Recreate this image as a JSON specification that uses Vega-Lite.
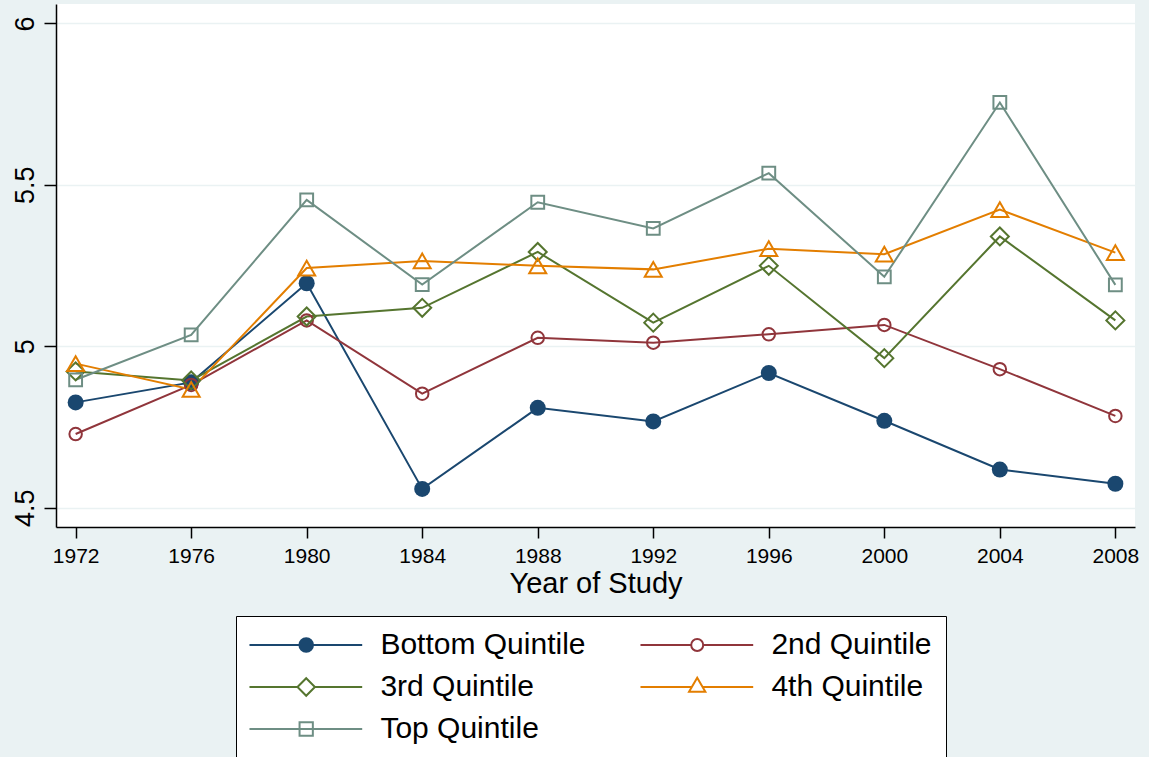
{
  "$schema": "https://vega.github.io/schema/vega-lite/v6.json",
  "width": 1079,
  "height": 523,
  "autosize": {"type": "none"},
  "padding": {"left": 56, "top": 4, "right": 14, "bottom": 230},
  "background": "#eaf2f3",
  "config": {
    "view": {"stroke": null, "fill": "white"},
    "font": "Liberation Sans",
    "axis": {
      "domainColor": "black",
      "domainWidth": 1.5,
      "tickColor": "black",
      "tickWidth": 1.5,
      "labelColor": "black",
      "titleColor": "black",
      "labelFont": "Liberation Sans",
      "titleFont": "Liberation Sans",
      "titleFontWeight": "normal"
    }
  },
  "data": {
    "values": [
      {"year": 1972, "series": "Bottom Quintile", "value": 4.826},
      {"year": 1976, "series": "Bottom Quintile", "value": 4.888},
      {"year": 1980, "series": "Bottom Quintile", "value": 5.195},
      {"year": 1984, "series": "Bottom Quintile", "value": 4.558},
      {"year": 1988, "series": "Bottom Quintile", "value": 4.809},
      {"year": 1992, "series": "Bottom Quintile", "value": 4.767},
      {"year": 1996, "series": "Bottom Quintile", "value": 4.917},
      {"year": 2000, "series": "Bottom Quintile", "value": 4.769},
      {"year": 2004, "series": "Bottom Quintile", "value": 4.618},
      {"year": 2008, "series": "Bottom Quintile", "value": 4.574},
      {"year": 1972, "series": "2nd Quintile", "value": 4.728},
      {"year": 1976, "series": "2nd Quintile", "value": 4.880},
      {"year": 1980, "series": "2nd Quintile", "value": 5.080},
      {"year": 1984, "series": "2nd Quintile", "value": 4.853},
      {"year": 1988, "series": "2nd Quintile", "value": 5.026},
      {"year": 1992, "series": "2nd Quintile", "value": 5.011},
      {"year": 1996, "series": "2nd Quintile", "value": 5.037},
      {"year": 2000, "series": "2nd Quintile", "value": 5.066},
      {"year": 2004, "series": "2nd Quintile", "value": 4.929},
      {"year": 2008, "series": "2nd Quintile", "value": 4.784},
      {"year": 1972, "series": "3rd Quintile", "value": 4.922},
      {"year": 1976, "series": "3rd Quintile", "value": 4.894},
      {"year": 1980, "series": "3rd Quintile", "value": 5.092},
      {"year": 1984, "series": "3rd Quintile", "value": 5.119},
      {"year": 1988, "series": "3rd Quintile", "value": 5.292},
      {"year": 1992, "series": "3rd Quintile", "value": 5.073},
      {"year": 1996, "series": "3rd Quintile", "value": 5.249},
      {"year": 2000, "series": "3rd Quintile", "value": 4.963},
      {"year": 2004, "series": "3rd Quintile", "value": 5.340},
      {"year": 2008, "series": "3rd Quintile", "value": 5.080},
      {"year": 1972, "series": "4th Quintile", "value": 4.946},
      {"year": 1976, "series": "4th Quintile", "value": 4.866},
      {"year": 1980, "series": "4th Quintile", "value": 5.242},
      {"year": 1984, "series": "4th Quintile", "value": 5.264},
      {"year": 1988, "series": "4th Quintile", "value": 5.249},
      {"year": 1992, "series": "4th Quintile", "value": 5.238},
      {"year": 1996, "series": "4th Quintile", "value": 5.302},
      {"year": 2000, "series": "4th Quintile", "value": 5.285},
      {"year": 2004, "series": "4th Quintile", "value": 5.423},
      {"year": 2008, "series": "4th Quintile", "value": 5.290},
      {"year": 1972, "series": "Top Quintile", "value": 4.896},
      {"year": 1976, "series": "Top Quintile", "value": 5.035},
      {"year": 1980, "series": "Top Quintile", "value": 5.453},
      {"year": 1984, "series": "Top Quintile", "value": 5.191},
      {"year": 1988, "series": "Top Quintile", "value": 5.446},
      {"year": 1992, "series": "Top Quintile", "value": 5.365},
      {"year": 1996, "series": "Top Quintile", "value": 5.536},
      {"year": 2000, "series": "Top Quintile", "value": 5.215},
      {"year": 2004, "series": "Top Quintile", "value": 5.755},
      {"year": 2008, "series": "Top Quintile", "value": 5.190}
    ]
  },
  "encoding": {
    "x": {
      "field": "year",
      "type": "quantitative",
      "scale": {"domain": [1971.32, 2008.68], "nice": false, "zero": false},
      "axis": {
        "title": "Year of Study",
        "values": [1972, 1976, 1980, 1984, 1988, 1992, 1996, 2000, 2004, 2008],
        "format": "d",
        "grid": false,
        "tickSize": 11,
        "labelFontSize": 21,
        "labelPadding": 7,
        "titleFontSize": 29,
        "titlePadding": 3
      }
    },
    "y": {
      "field": "value",
      "type": "quantitative",
      "scale": {"domain": [4.44, 6.06], "nice": false, "zero": false},
      "axis": {
        "title": null,
        "values": [4.5, 5, 5.5, 6],
        "labelExpr": "'' + datum.value",
        "grid": true,
        "gridColor": "#eaf2f3",
        "gridWidth": 1.5,
        "tickSize": 12,
        "labelFontSize": 27,
        "labelAngle": -90,
        "labelAlign": "center",
        "labelBaseline": "alphabetic",
        "labelPadding": 11
      }
    }
  },
  "layer": [
    {
      "mark": {"type": "line", "strokeWidth": 2},
      "encoding": {
        "color": {
          "field": "series",
          "type": "nominal",
          "title": null,
          "scale": {
            "domain": ["Bottom Quintile", "2nd Quintile", "3rd Quintile", "4th Quintile", "Top Quintile"],
            "range": ["#1a476f", "#90353b", "#55752f", "#e37e00", "#6e8e84"]
          },
          "legend": {
            "orient": "none",
            "legendX": 180,
            "legendY": 612,
            "direction": "horizontal",
            "columns": 2,
            "symbolType": "M-1.94,0H12.15",
            "symbolSize": 256,
            "symbolStrokeWidth": 2,
            "labelFont": "Liberation Sans",
            "labelFontSize": 30,
            "labelColor": "black",
            "labelOffset": 100.4,
            "labelLimit": 400,
            "rowPadding": 12,
            "columnPadding": 50,
            "padding": 14,
            "fillColor": "white",
            "strokeColor": "black",
            "encode": {
              "symbols": {
                "update": {
                  "shape": [
                    {"test": "datum.value === 'Bottom Quintile'", "value": "M-1.94,0H12.15M6.00,0A0.85,0.85,0,1,1,4.30,0A0.85,0.85,0,1,1,6.00,0ZM5.81,0A0.66,0.66,0,1,1,4.49,0A0.66,0.66,0,1,1,5.81,0ZM5.62,0A0.47,0.47,0,1,1,4.68,0A0.47,0.47,0,1,1,5.62,0ZM5.43,0A0.28,0.28,0,1,1,4.87,0A0.28,0.28,0,1,1,5.43,0ZM5.25,0A0.1,0.1,0,1,1,5.05,0A0.1,0.1,0,1,1,5.25,0Z"},
                    {"test": "datum.value === '2nd Quintile'", "value": "M-1.94,0H4.40M5.90,0H12.15M5.90,0A0.75,0.75,0,1,1,4.40,0A0.75,0.75,0,1,1,5.90,0Z"},
                    {"test": "datum.value === '3rd Quintile'", "value": "M-1.94,0H4.06M6.24,0H12.15M4.06,0L5.15,-1.09L6.24,0L5.15,1.09Z"},
                    {"test": "datum.value === '4th Quintile'", "value": "M-1.94,0H4.48M5.82,0H12.15M5.15,-1.17L6.17,0.6L4.13,0.6Z"},
                    {"value": "M-1.94,0H12.15M4.32,-0.83H5.98V0.83H4.32Z"}
                  ],
                  "fill": [
                    {"test": "datum.value === 'Bottom Quintile'", "value": "#1a476f"},
                    {"value": "white"}
                  ],
                  "fillOpacity": {"value": 1}
                }
              }
            }
          }
        }
      }
    },
    {
      "transform": [{"filter": {"field": "series", "equal": "Bottom Quintile"}}],
      "mark": {"type": "point", "shape": "circle", "filled": true, "color": "#1a476f", "size": 256, "strokeWidth": 0, "opacity": 1}
    },
    {
      "transform": [{"filter": {"field": "series", "equal": "2nd Quintile"}}],
      "mark": {"type": "point", "shape": "circle", "filled": false, "color": "#90353b", "size": 156, "strokeWidth": 2, "opacity": 1}
    },
    {
      "transform": [{"filter": {"field": "series", "equal": "3rd Quintile"}}],
      "mark": {"type": "point", "shape": "diamond", "filled": false, "color": "#55752f", "size": 324, "strokeWidth": 2, "opacity": 1}
    },
    {
      "transform": [{"filter": {"field": "series", "equal": "4th Quintile"}}],
      "mark": {"type": "point", "shape": "triangle-up", "filled": false, "color": "#e37e00", "size": 289, "strokeWidth": 2, "opacity": 1}
    },
    {
      "transform": [{"filter": {"field": "series", "equal": "Top Quintile"}}],
      "mark": {"type": "point", "shape": "square", "filled": false, "color": "#6e8e84", "size": 164, "strokeWidth": 2, "opacity": 1}
    }
  ]
}
